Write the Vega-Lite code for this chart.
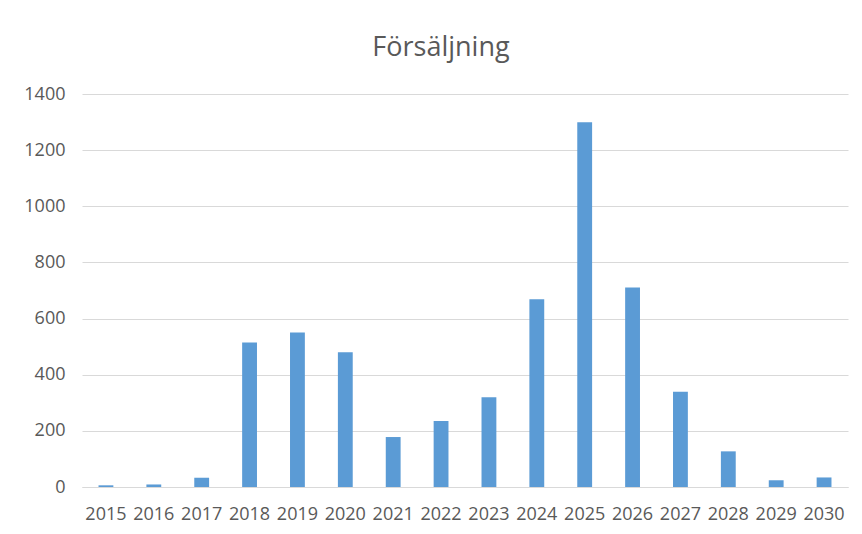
{
  "$schema": "https://vega.github.io/schema/vega-lite/v6.json",
  "autosize": "none",
  "padding": {"left": 82, "top": 94, "right": 14, "bottom": 47},
  "width": 766,
  "height": 393,
  "background": "white",
  "title": {
    "text": "Försäljning",
    "font": "Open Sans",
    "fontSize": 27,
    "fontWeight": "normal",
    "color": "#595959",
    "frame": "group",
    "anchor": "middle",
    "dx": -24,
    "offset": 23
  },
  "data": {
    "values": [
      {"year": "2015", "value": 6},
      {"year": "2016", "value": 9},
      {"year": "2017", "value": 33},
      {"year": "2018", "value": 515},
      {"year": "2019", "value": 550},
      {"year": "2020", "value": 480},
      {"year": "2021", "value": 178},
      {"year": "2022", "value": 235},
      {"year": "2023", "value": 320},
      {"year": "2024", "value": 669},
      {"year": "2025", "value": 1299},
      {"year": "2026", "value": 711},
      {"year": "2027", "value": 339},
      {"year": "2028", "value": 127},
      {"year": "2029", "value": 24},
      {"year": "2030", "value": 34}
    ]
  },
  "mark": {"type": "bar", "color": "#5B9BD5"},
  "encoding": {
    "x": {
      "field": "year",
      "type": "nominal",
      "sort": null,
      "scale": {"paddingInner": 0.69, "paddingOuter": 0.345},
      "axis": {
        "title": null,
        "labelAngle": 0,
        "labelFont": "Open Sans",
        "labelFontSize": 18,
        "labelColor": "#595959",
        "labelPadding": 18,
        "ticks": false,
        "domain": true,
        "domainColor": "#D9D9D9",
        "domainWidth": 1,
        "grid": false
      }
    },
    "y": {
      "field": "value",
      "type": "quantitative",
      "scale": {"domain": [0, 1400], "nice": false},
      "axis": {
        "title": null,
        "format": "d",
        "values": [0, 200, 400, 600, 800, 1000, 1200, 1400],
        "labelFont": "Open Sans",
        "labelFontSize": 18,
        "labelColor": "#595959",
        "labelPadding": 17,
        "ticks": false,
        "domain": false,
        "grid": true,
        "gridColor": "#D9D9D9",
        "gridWidth": 1
      }
    }
  },
  "config": {"view": {"stroke": null}}
}
